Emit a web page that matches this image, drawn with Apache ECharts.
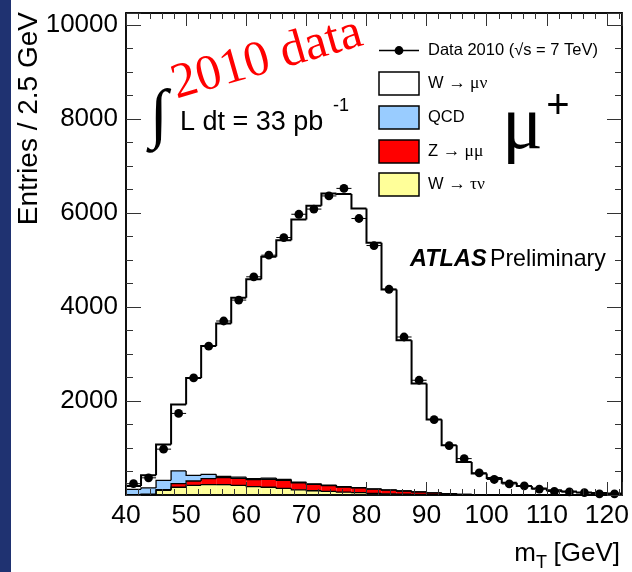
<!DOCTYPE html>
<html><head><meta charset="utf-8">
<script src="https://cdn.jsdelivr.net/npm/echarts@6/dist/echarts.min.js"></script>
<style>html,body{margin:0;padding:0;background:#fff;}#c{width:632px;height:572px;}</style>
</head><body><div id="c"></div>
<script>
// ---- data (entries per 2.5 GeV bin) ----
const binLow = [40,42.5,45,47.5,50,52.5,55,57.5,60,62.5,65,67.5,70,72.5,75,77.5,80,82.5,85,87.5,90,92.5,95,97.5,100,102.5,105,107.5,110,112.5,115,117.5,120];
const binWidth = 2.5;
const wMuNu  = [70,270,760,1412,2071,2731,3252,3813,4240,4705,5090,5585,5913,6200,6222,5939,5233,4262,3204,2303,1557,1027,687,447,358,257,189,139,100,75,55,40,30];
const qcd    = [110,132,198,268,121,91,25,25,20,25,20,15,12,10,8,6,5,4,3,2,2,1,0,0,0,0,0,0,0,0,0,0,0];
const zMuMu  = [5,8,15,78,93,129,150,150,150,170,170,150,135,125,110,100,90,80,67,53,37,25,12,6,3,2,1,1,0,0,0,0,0];
const wTauNu = [5,10,100,165,205,220,220,205,180,165,140,110,90,75,60,50,35,25,18,12,8,5,3,2,1,1,0,0,0,0,0,0,0];
const data2010 = [240,365,975,1735,2490,3165,3700,4145,4640,5100,5475,5970,6080,6360,6520,5880,5305,4375,3360,2440,1605,1052,774,470,330,235,195,125,75,65,50,25,25];
const xTickLabels = [40,50,60,70,80,90,100,110,120];
const yTickLabels = [2000,4000,6000,8000,10000];

const colTau = '#ffff99', colZ = '#ff0000', colQCD = '#99ccff', colW = '#ffffff';

// stacked levels (bottom to top)
const layers = [wTauNu, zMuMu, qcd, wMuNu];
const layerColors = [colTau, colZ, colQCD, colW];
const cumLevels = layers.map((_, k) => binLow.map((_, i) => {
  let s = 0; for (let j = 0; j <= k; j++) s += layers[j][i]; return s;
}));

function fillItem(params, api) {
  const i = params.dataIndex;
  const x0 = binLow[i], x1 = x0 + binWidth;
  const children = [];
  let base = 0;
  for (let k = 0; k < layers.length; k++) {
    const v = layers[k][i];
    const p0 = api.coord([x0, base]);
    const p1 = api.coord([x1, base + v]);
    children.push({type: 'rect', shape: {x: p0[0], y: p1[1], width: p1[0] - p0[0], height: p0[1] - p1[1]},
      style: {fill: layerColors[k], stroke: null}});
    base += v;
  }
  return {type: 'group', children};
}

function lineItem(params, api) {
  const i = params.dataIndex;
  const x0 = binLow[i], x1 = x0 + binWidth;
  const children = [];
  for (let k = 0; k < cumLevels.length; k++) {
    const L = cumLevels[k];
    const prev = i > 0 ? L[i - 1] : 0;
    const pts = [api.coord([x0, prev]), api.coord([x0, L[i]]), api.coord([x1, L[i]])];
    if (i === binLow.length - 1) pts.push(api.coord([x1, 0]));
    children.push({type: 'polyline', shape: {points: pts},
      style: {stroke: '#000', lineWidth: k === 3 ? 2 : 1.3, fill: null}});
  }
  return {type: 'group', children};
}

function dataItem(params, api) {
  const i = params.dataIndex;
  const x0 = binLow[i], x1 = x0 + binWidth, xc = x0 + binWidth / 2;
  const v = data2010[i], e = Math.sqrt(v);
  const pL = api.coord([x0, v]), pR = api.coord([x1, v]), pC = api.coord([xc, v]);
  const pT = api.coord([xc, v + e]), pB = api.coord([xc, Math.max(0, v - e)]);
  return {type: 'group', children: [
    {type: 'line', shape: {x1: pL[0], y1: pL[1], x2: pR[0], y2: pR[1]}, style: {stroke: '#000', lineWidth: 1}},
    {type: 'line', shape: {x1: pT[0], y1: pT[1], x2: pB[0], y2: pB[1]}, style: {stroke: '#000', lineWidth: 1}},
    {type: 'circle', shape: {cx: pC[0], cy: pC[1], r: 4.4}, style: {fill: '#000'}}
  ]};
}

const FONT = 'Liberation Sans, Arial, Helvetica, sans-serif';
const SERIF = 'Liberation Serif, Times New Roman, serif';

function xAx(pos, interval, len, labels) {
  return {type: 'value', min: 40, max: 122.5, interval: interval, position: pos, z: 10,
    axisLine: {show: true, onZero: false, lineStyle: {color: '#000', width: 1.5}},
    axisTick: {show: true, inside: true, length: len, lineStyle: {color: '#333', width: 1}},
    minorTick: {show: false}, splitLine: {show: false},
    axisLabel: {show: labels, color: '#000', fontSize: 26.5, fontFamily: FONT, margin: 7, hideOverlap: false,
      showMinLabel: true, showMaxLabel: true,
      formatter: v => xTickLabels.indexOf(v) >= 0 ? String(v) : ''}};
}
function yAx(pos, interval, len, labels) {
  return {type: 'value', min: 0, max: 10250, interval: interval, position: pos, z: 10,
    axisLine: {show: true, onZero: false, lineStyle: {color: '#000', width: 1.5}},
    axisTick: {show: true, inside: true, length: len, lineStyle: {color: '#333', width: 1}},
    minorTick: {show: false}, splitLine: {show: false},
    axisLabel: {show: labels, color: '#000', fontSize: 26, fontFamily: FONT, margin: 8, hideOverlap: false,
      showMinLabel: true, showMaxLabel: true,
      formatter: v => yTickLabels.indexOf(v) >= 0 ? String(v) : ''}};
}

const chart = echarts.init(document.getElementById('c'), null, {renderer: 'canvas'});
const legendTop = [72, 106, 140, 173];
const legendNames = [
  {t: '{s|W }{g|→ μν}', c: colW},
  {t: '{s|QCD}', c: colQCD},
  {t: '{s|Z }{g|→ μμ}', c: colZ},
  {t: '{s|W }{g|→ τν}', c: colTau}
];
const legRich = {s: {fontSize: 16.5, fontFamily: FONT, fill: '#000'}, g: {fontSize: 17.5, fontFamily: SERIF, fill: '#000'}};
const graphics = [
  {type: 'rect', x: 0, y: 0, shape: {width: 11, height: 572}, style: {fill: '#1f3271'}, z: 100},
  {type: 'text', x: 29, y: 12, rotation: Math.PI / 2, z: 100,
    style: {text: 'Entries / 2.5 GeV', fontSize: 28, fontFamily: FONT, fill: '#000', textAlign: 'right', textVerticalAlign: 'middle'}},
  {type: 'text', x: 536, y: 554, z: 100, style: {text: 'm', fontSize: 26, fontFamily: FONT, fill: '#000', textAlign: 'right', textVerticalAlign: 'middle'}},
  {type: 'text', x: 536, y: 563, z: 100, style: {text: 'T', fontSize: 18, fontFamily: FONT, fill: '#000', textAlign: 'left', textVerticalAlign: 'middle'}},
  {type: 'text', x: 620, y: 554, z: 100, style: {text: '[GeV]', fontSize: 26, fontFamily: FONT, fill: '#000', textAlign: 'right', textVerticalAlign: 'middle'}},
  // 2010 data
  {type: 'text', x: 173, y: 86, rotation: 16 * Math.PI / 180, z: 100,
    style: {text: '2010 data', fontSize: 50, fontFamily: SERIF, fill: '#ff0000', textAlign: 'left', textVerticalAlign: 'middle'}},
  // luminosity
  {type: 'text', x: 150, y: 118, z: 100, style: {text: '∫', fontSize: 66, fontFamily: SERIF, fill: '#000', textAlign: 'left', textVerticalAlign: 'middle'}},
  {type: 'text', x: 180, y: 123, z: 100, style: {text: 'L dt = 33 pb', fontSize: 27, fontFamily: FONT, fill: '#000', textAlign: 'left', textVerticalAlign: 'middle'}},
  {type: 'text', x: 333, y: 106, z: 100, style: {text: '-1', fontSize: 18, fontFamily: FONT, fill: '#000', textAlign: 'left', textVerticalAlign: 'middle'}},
  // mu+
  {type: 'text', x: 502, y: 128, z: 100, style: {text: 'μ', fontSize: 76, fontFamily: SERIF, fill: '#000', textAlign: 'left', textVerticalAlign: 'middle'}},
  {type: 'text', x: 558, y: 107, z: 100, style: {text: '+', fontSize: 40, fontFamily: FONT, fill: '#000', textAlign: 'center', textVerticalAlign: 'middle'}},
  // ATLAS Preliminary
  {type: 'text', x: 410, y: 260, z: 100, style: {text: '{b|ATLAS} {n|Preliminary}', textAlign: 'left', textVerticalAlign: 'middle',
    rich: {b: {fontSize: 23.5, fontFamily: FONT, fontWeight: 'bold', fontStyle: 'italic', fill: '#000'}, n: {fontSize: 23.2, fontFamily: FONT, fill: '#000'}}}},
  // legend: data
  {type: 'line', z: 100, shape: {x1: 379, y1: 50.5, x2: 419, y2: 50.5}, style: {stroke: '#000', lineWidth: 1.5}},
  {type: 'circle', z: 100, shape: {cx: 399, cy: 50.5, r: 4.4}, style: {fill: '#000'}},
  {type: 'text', x: 428, y: 50, z: 100, style: {text: 'Data 2010 (√s = 7 TeV)', fontSize: 16.5, fontFamily: FONT, fill: '#000', textAlign: 'left', textVerticalAlign: 'middle'}}
];
legendNames.forEach((ln, k) => {
  graphics.push({type: 'rect', z: 100, shape: {x: 379, y: legendTop[k], width: 40, height: 23}, style: {fill: ln.c, stroke: '#000', lineWidth: 1.5}});
  graphics.push({type: 'text', z: 100, x: 428, y: legendTop[k] + 11.5, style: {text: ln.t, rich: legRich, textAlign: 'left', textVerticalAlign: 'middle'}});
});

const histData = binLow.map((x, i) => [x + binWidth / 2, cumLevels[3][i]]);
const ptsData = binLow.map((x, i) => [x + binWidth / 2, data2010[i]]);

chart.setOption({
  animation: false,
  backgroundColor: '#fff',
  grid: {left: 126, right: 10, top: 13, bottom: 77, containLabel: false, outerBoundsMode: 'none'},
  xAxis: [xAx('bottom', 10, 13, true), xAx('bottom', 2, 6, false), xAx('top', 10, 13, false), xAx('top', 2, 6, false)],
  yAxis: [yAx('left', 2000, 15, true), yAx('left', 500, 7, false), yAx('right', 2000, 15, false), yAx('right', 500, 7, false)],
  series: [
    {type: 'custom', name: 'stack', renderItem: fillItem, data: histData, xAxisIndex: 0, yAxisIndex: 0, z: 2, silent: true},
    {type: 'custom', name: 'outline', renderItem: lineItem, data: histData, xAxisIndex: 0, yAxisIndex: 0, z: 3, silent: true},
    {type: 'custom', name: 'Data 2010', renderItem: dataItem, data: ptsData, xAxisIndex: 0, yAxisIndex: 0, z: 4, silent: true}
  ],
  graphic: {elements: graphics}
});
</script></body></html>
